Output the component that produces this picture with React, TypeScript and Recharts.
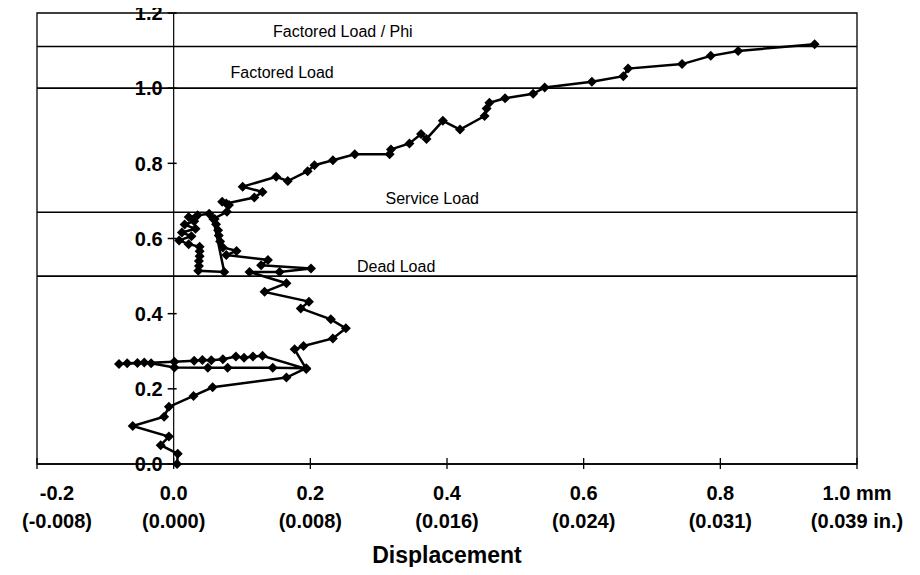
import React from 'react';
import {
  ScatterChart,
  Scatter,
  XAxis,
  YAxis,
  ReferenceLine,
  ReferenceArea,
} from 'recharts';

// displacement (mm) and load ratio, in the order they were recorded
const DISP = [
  0.005, 0.006, -0.019, -0.007, -0.06, -0.014, -0.007, 0.029, 0.057, 0.165,
  0.194, 0.145, 0.079, 0.05, 0.001, -0.033, -0.043, -0.053, -0.068, -0.08,
  0.001, 0.03, 0.042, 0.055, 0.072, 0.091, 0.103, 0.116, 0.13, 0.194,
  0.177, 0.19, 0.233, 0.252, 0.23, 0.186, 0.198, 0.133, 0.165, 0.111,
  0.155, 0.201, 0.128, 0.138, 0.077, 0.092, 0.072, 0.068, 0.066, 0.065,
  0.062, 0.06, 0.052, 0.035, 0.022, 0.03, 0.016, 0.032, 0.012, 0.026,
  0.008, 0.022, 0.038, 0.038, 0.038, 0.037, 0.037, 0.036, 0.074, 0.058,
  0.078, 0.081, 0.071, 0.077, 0.118, 0.13, 0.101, 0.15, 0.167, 0.196,
  0.206, 0.233, 0.265, 0.316, 0.318, 0.345, 0.362, 0.37, 0.394, 0.419,
  0.455, 0.458, 0.462, 0.485, 0.526, 0.543, 0.612, 0.658, 0.665, 0.744,
  0.786, 0.826, 0.938,
];
const LOAD = [
  0.0, 0.027, 0.05, 0.073, 0.101, 0.126, 0.152, 0.181, 0.204, 0.23,
  0.255, 0.256, 0.256, 0.256, 0.257, 0.268, 0.27, 0.269, 0.268, 0.266,
  0.272, 0.275, 0.277, 0.276, 0.279, 0.286, 0.283, 0.286, 0.288, 0.253,
  0.305, 0.314, 0.334, 0.361, 0.385, 0.414, 0.432, 0.458, 0.481, 0.511,
  0.511, 0.52, 0.529, 0.543, 0.556, 0.567, 0.576, 0.592, 0.608, 0.622,
  0.638, 0.652, 0.666, 0.662, 0.657, 0.646, 0.637, 0.626, 0.616, 0.606,
  0.595, 0.585, 0.578, 0.566, 0.553, 0.54, 0.527, 0.514, 0.511, 0.652,
  0.671, 0.689, 0.698, 0.693, 0.709, 0.724, 0.738, 0.764, 0.753, 0.779,
  0.795, 0.808, 0.824, 0.824, 0.837, 0.853, 0.878, 0.865, 0.913, 0.89,
  0.926, 0.946, 0.961, 0.973, 0.985, 1.002, 1.017, 1.032, 1.052, 1.064,
  1.086, 1.099, 1.117,
];

const LEVEL_VALUES = [1.111, 1.0, 0.67, 0.5];
const LEVEL_NAMES = ['Factored Load / Phi', 'Factored Load', 'Service Load', 'Dead Load'];

const X_TICKS = [-0.2, 0, 0.2, 0.4, 0.6, 0.8, 1.0];
const X_MM = ['-0.2', '0.0', '0.2', '0.4', '0.6', '0.8', '1.0 mm'];
const X_IN = ['(-0.008)', '(0.000)', '(0.008)', '(0.016)', '(0.024)', '(0.031)', '(0.039 in.)'];

const Y_TICKS = [0, 0.2, 0.4, 0.6, 0.8, 1.0, 1.2];
const Y_LABELS = ['0.0', '0.2', '0.4', '0.6', '0.8', '1.0', '1.2'];

const points = DISP.map((x, i) => ({ x, y: LOAD[i] }));

// layout
const W = 920;
const H = 575;
const Y_AXIS_W = 1;
const MARGIN = { top: 13, right: 63, bottom: 0, left: 37 - Y_AXIS_W };
const X_AXIS_H = 111;
const PLOT_LEFT = MARGIN.left + Y_AXIS_W;
const PLOT_W = W - PLOT_LEFT - MARGIN.right;
const PLOT_H = H - MARGIN.top - MARGIN.bottom - X_AXIS_H;
const X_MIN = -0.2;
const X_MAX = 1.0;
const ZERO_X = PLOT_LEFT + (PLOT_W * (0 - X_MIN)) / (X_MAX - X_MIN);
const AXIS_Y = MARGIN.top + PLOT_H;
const FONT = '"Liberation Sans", Arial, Helvetica, sans-serif';
const TICK_FONT = 20;

// where each load-level caption sits: fraction across the plot, px above the line
const LEVEL_LABEL_POS = [
  { at: 0.373, up: 9 },
  { at: 0.299, up: 10 },
  { at: 0.482, up: 8 },
  { at: 0.438, up: 4 },
];

const idx = (arr: number[], v: number) => arr.findIndex((t) => Math.abs(t - v) < 1e-9);

const XTick = (props: any) => {
  const { x, payload } = props;
  const i = idx(X_TICKS, payload.value);
  // the left-most caption is nudged inward so it stays on the page
  const tx = i === 0 ? x + 20 : x;
  return (
    <g>
      <line x1={x} x2={x} y1={AXIS_Y - 6} y2={AXIS_Y + 5} stroke="#000" strokeWidth={1.3} />
      <text x={tx} y={AXIS_Y + 36} textAnchor="middle" fontFamily={FONT} fontWeight="bold" fontSize={TICK_FONT} fill="#000">
        {X_MM[i]}
      </text>
      <text x={tx} y={AXIS_Y + 64} textAnchor="middle" fontFamily={FONT} fontWeight="bold" fontSize={TICK_FONT} fill="#000">
        {X_IN[i]}
      </text>
    </g>
  );
};

const YTick = (props: any) => {
  const { y, payload } = props;
  const i = idx(Y_TICKS, payload.value);
  return (
    <g>
      <line x1={ZERO_X - 6} x2={ZERO_X + 3} y1={y} y2={y} stroke="#000" strokeWidth={1.5} />
      <text x={ZERO_X - 11} y={y} dy="0.36em" textAnchor="end" fontFamily={FONT} fontWeight="bold" fontSize={TICK_FONT} fill="#000">
        {Y_LABELS[i]}
      </text>
    </g>
  );
};

const Diamond = (props: any) => {
  const { cx, cy } = props;
  const r = 5;
  return <path d={`M${cx},${cy - r}L${cx + r},${cy}L${cx},${cy + r}L${cx - r},${cy}Z`} fill="#000" />;
};

const levelLabel = (i: number) => (props: any) => {
  const vb = props.viewBox || {};
  const pos = LEVEL_LABEL_POS[i];
  return (
    <text
      x={vb.x + vb.width * pos.at}
      y={vb.y - pos.up}
      textAnchor="middle"
      fontFamily={FONT}
      fontSize={16}
      fill="#000"
    >
      {LEVEL_NAMES[i]}
    </text>
  );
};

export default function App() {
  return (
    <div style={{ margin: -8, background: '#fff' }}>
      <ScatterChart width={W} height={H} margin={MARGIN}>
        <XAxis
          type="number"
          dataKey="x"
          domain={[X_MIN, X_MAX]}
          ticks={X_TICKS}
          interval={0}
          height={X_AXIS_H}
          tickSize={0}
          tickMargin={0}
          tickLine={false}
          axisLine={{ stroke: '#000', strokeWidth: 1.5 }}
          tick={<XTick />}
          label={{
            value: 'Displacement',
            position: 'insideBottom',
            offset: 12,
            fontFamily: FONT,
            fontWeight: 'bold',
            fontSize: 23,
            fill: '#000',
          }}
        />
        <YAxis
          type="number"
          dataKey="y"
          domain={[0, 1.2]}
          ticks={Y_TICKS}
          interval={0}
          width={Y_AXIS_W}
          tickSize={0}
          tickMargin={0}
          axisLine={false}
          tickLine={false}
          tick={<YTick />}
        />
        <ReferenceArea x1={X_MIN} x2={X_MAX} y1={0} y2={1.2} fill="none" stroke="#000" strokeWidth={1.3} />
        <ReferenceLine x={0} stroke="#000" strokeWidth={1.2} />
        {LEVEL_VALUES.map((v, i) => (
          <ReferenceLine key={LEVEL_NAMES[i]} y={v} stroke="#000" strokeWidth={1.6} label={levelLabel(i)} />
        ))}
        <Scatter
          data={points}
          line={{ stroke: '#000', strokeWidth: 2.5 }}
          lineType="joint"
          shape={<Diamond />}
          fill="#000"
          isAnimationActive={false}
        />
      </ScatterChart>
    </div>
  );
}
